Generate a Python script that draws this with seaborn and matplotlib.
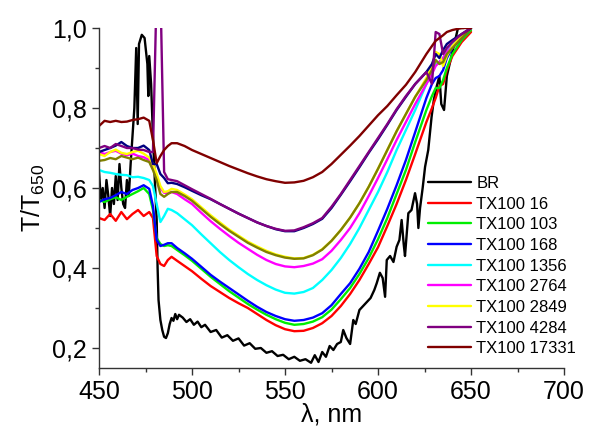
import matplotlib
matplotlib.use("Agg")
import matplotlib.pyplot as plt
import seaborn as sns
from matplotlib.ticker import MultipleLocator, FuncFormatter

# wavelength grid shared by the TX100 curves
wl = [450, 453, 456, 459, 462, 465, 468, 471, 474, 477,
      479, 481, 483, 485, 487, 489, 492, 496, 500, 505,
      510, 515, 520, 525, 530, 535, 540, 545, 550, 555,
      560, 565, 570, 575, 580, 585, 590, 595, 600, 605,
      610, 615, 620, 626, 629, 631, 633, 635, 637, 640,
      645, 650]

tx16 = [.525, .52, .535, .518, .54, .522, .535, .545, .53, .54,
        .525, .43, .41, .405, .42, .428, .418, .405, .392, .373,
        .355, .34, .325, .312, .30, .285, .27, .257, .247, .242,
        .243, .25, .262, .28, .305, .335, .37, .41, .452, .505,
        .56, .62, .685, .765, .80, .825, .855, .86, .895, .93,
        .965, .99]
tx103 = [.57, .565, .572, .577, .57, .578, .585, .592, .60, .585,
         .545, .475, .46, .455, .457, .455, .445, .432, .418, .398,
         .378, .36, .342, .326, .31, .296, .283, .272, .263, .258,
         .26, .266, .277, .296, .322, .35, .385, .425, .472, .525,
         .585, .645, .715, .795, .83, .85, .85, .87, .90, .935,
         .97, .995]
tx168 = [.565, .572, .575, .582, .59, .585, .595, .60, .607, .598,
         .555, .47, .455, .458, .462, .462, .45, .437, .423, .403,
         .383, .366, .35, .334, .318, .303, .29, .28, .272, .268,
         .27, .276, .287, .307, .335, .362, .398, .44, .493, .548,
         .607, .67, .74, .825, .86, .875, .88, .895, .925, .95,
         .975, 1.0]
tx1356 = [.645, .64, .638, .635, .633, .632, .627, .628, .625, .62,
          .605, .56, .515, .53, .548, .545, .537, .522, .507, .484,
          .462, .44, .42, .402, .385, .37, .357, .346, .338, .336,
          .34, .35, .37, .395, .425, .46, .50, .545, .59, .64,
          .695, .745, .795, .86, .89, .91, .915, .925, .94, .96,
          .98, 1.0]
tx2764 = [.69, .685, .69, .693, .686, .682, .686, .68, .677, .67,
          .655, .625, .60, .588, .588, .59, .585, .572, .56, .538,
          .517, .498, .48, .463, .448, .433, .42, .41, .404, .402,
          .405, .411, .422, .443, .47, .50, .537, .58, .625, .672,
          .72, .765, .81, .86, .885, .905, .915, .925, .94, .955,
          .98, 1.0]
tx2849 = [.685, .68, .69, .696, .688, .685, .69, .693, .686, .676,
          .66, .635, .605, .59, .592, .598, .595, .584, .572, .552,
          .532, .514, .496, .481, .466, .454, .443, .434, .428, .424,
          .425, .433, .447, .468, .495, .526, .562, .603, .648, .695,
          .742, .785, .828, .875, .905, .94, .935, .905, .93, .955,
          .98, 1.0]
olive_curve = [.668, .67, .675, .672, .68, .676, .672, .676, .67, .665,
               .645, .62, .585, .578, .585, .59, .59, .58, .568, .548,
               .528, .51, .493, .478, .463, .451, .44, .432, .426, .423,
               .424, .432, .446, .468, .495, .526, .562, .603, .648, .695,
               .742, .785, .828, .87, .895, .92, .91, .915, .935, .95,
               .975, 1.0]
navy_curve = [.69, .695, .70, .706, .715, .705, .70, .70, .706, .695,
              .66, .66, .635, .625, .612, .613, .61, .602, .593, .582,
              .572, .56, .548, .536, .525, .514, .505, .497, .492, .492,
              .50, .51, .523, .55, .583, .617, .652, .688, .722, .758,
              .795, .828, .86, .89, .91, .935, .925, .945, .96, .97,
              .985, 1.0]
tx4284 = [.70, .705, .70, .71, .705, .70, .70, .696, .695, .69,
          .69, 1.1, 1.1, .64, .622, .62, .617, .607, .597, .585,
          .573, .56, .548, .536, .525, .514, .505, .498, .493, .494,
          .502, .512, .525, .553, .585, .62, .655, .69, .725, .76,
          .797, .83, .86, .89, .86, .99, .985, .935, .95, .965,
          .985, 1.0]
tx17331 = [.755, .768, .765, .768, .765, .766, .77, .772, .776, .768,
           .72, .662, .68, .695, .705, .712, .712, .705, .695, .685,
           .675, .665, .655, .646, .637, .629, .622, .617, .613, .614,
           .618, .627, .64, .66, .683, .706, .73, .756, .782, .805,
           .832, .858, .89, .935, .955, .968, .975, .982, .99, .995,
           1.0, 1.0]

# BR has its own, finer wavelength list
br_wl = [450, 451, 452, 453, 454, 455, 456, 457, 458, 459,
         460, 461, 462, 463, 464, 465, 466, 467, 468, 469,
         470, 470.8, 471.5, 473, 474.5, 476, 476.5, 477, 478, 479,
         480, 481, 481.5, 482, 483, 484, 485, 486, 487, 488,
         489, 490, 491, 492, 493, 495, 497, 499, 501, 503,
         505, 507, 510, 513, 516, 519, 522, 525, 528, 531,
         534, 537, 540, 543, 546, 549, 552, 555, 558, 561,
         564, 566, 568, 570, 572, 574, 576, 578, 580, 581.3,
         583, 585, 586.7, 588, 590, 592, 594, 596, 598, 599.3,
         601, 602.5, 603.8, 604.7, 606.5, 608.3, 610, 611.5, 612.7, 613.8,
         614.5, 616.3, 618, 619.9, 621, 621.7, 622.6, 624, 625.3, 627,
         628.8, 630, 631.5, 633, 634, 635.5, 637, 639, 641, 643,
         646]
br = [.64, .57, .60, .55, .62, .58, .53, .60, .56, .63,
      .57, .66, .60, .56, .55, .62, .58, .66, .73, .80,
      .95, .76, .96, .983, .975, .91, .83, .93, .86, .73,
      .62, .52, .40, .32, .27, .245, .228, .225, .237, .26,
      .275, .268, .285, .272, .283, .276, .265, .272, .258, .266,
      .252, .258, .24, .245, .226, .232, .218, .224, .206, .212,
      .198, .20, .188, .192, .18, .183, .172, .178, .168, .172,
      .163, .182, .165, .19, .178, .205, .195, .21, .215, .245,
      .225, .21, .27, .26, .295, .305, .315, .325, .345, .362,
      .388, .375, .328, .42, .43, .415, .453, .47, .52, .46,
      .43, .537, .545, .587, .56, .50, .55, .60, .653, .695,
      .778, .82, .853, .88, .81, .795, .88, .92, .96, 1.0,
      1.0]

series = [
    ("TX100 16", tx16, "#ff0000"),
    ("TX100 103", tx103, "#00ee00"),
    ("TX100 168", tx168, "#0000ff"),
    ("TX100 1356", tx1356, "#00ffff"),
    ("TX100 2764", tx2764, "#ff00ff"),
    ("TX100 2849", tx2849, "#ffff00"),
    ("_olive", olive_curve, "#808000"),
    ("_navy", navy_curve, "#000080"),
    ("TX100 4284", tx4284, "#800080"),
    ("TX100 17331", tx17331, "#800000"),
]

sns.set_style("ticks")
plt.rcParams['font.family'] = ['Liberation Sans', 'DejaVu Sans']
plt.rcParams['text.color'] = 'black'
plt.rcParams['axes.labelcolor'] = 'black'

fig = plt.figure(figsize=(5.89, 4.29), dpi=100)
ax = fig.add_axes([0.1681, 0.1422, 0.7895, 0.7925])

sns.lineplot(x=br_wl, y=br, color="black", lw=1.7, label="BR",
             estimator=None, sort=False, ax=ax)
for name, vals, col in series:
    sns.lineplot(x=wl, y=vals, color=col, lw=1.7, label=name,
                 estimator=None, sort=False, ax=ax)

ax.set_xlim(450, 700)
ax.set_ylim(0.15, 1.0)
ax.xaxis.set_major_locator(MultipleLocator(50))
ax.xaxis.set_minor_locator(MultipleLocator(25))
ax.yaxis.set_major_locator(MultipleLocator(0.2))
ax.yaxis.set_minor_locator(MultipleLocator(0.1))
ax.yaxis.set_major_formatter(FuncFormatter(lambda v, p: f"{v:.1f}".replace(".", ",")))

ax.tick_params(which="major", direction="out", length=5, width=1,
               labelsize=18, color="#333333", labelcolor="black")
ax.tick_params(which="minor", direction="out", length=3, width=1, color="#333333")
sns.despine(ax=ax)
for s in ["left", "bottom"]:
    ax.spines[s].set_color("#333333")
    ax.spines[s].set_linewidth(1)

ax.set_xlabel("λ, nm", fontsize=18, labelpad=-1)
ax.set_ylabel("T/T$_{\\mathregular{650}}$", fontsize=18, labelpad=4)

ax.legend(loc="upper left", bbox_to_anchor=(0.7267, 0.59),
          bbox_transform=fig.transFigure, frameon=False, fontsize=12,
          borderpad=0, borderaxespad=0, handlelength=2.6,
          handletextpad=0.3, labelspacing=0.34)

fig.savefig("out.png", dpi=100)
